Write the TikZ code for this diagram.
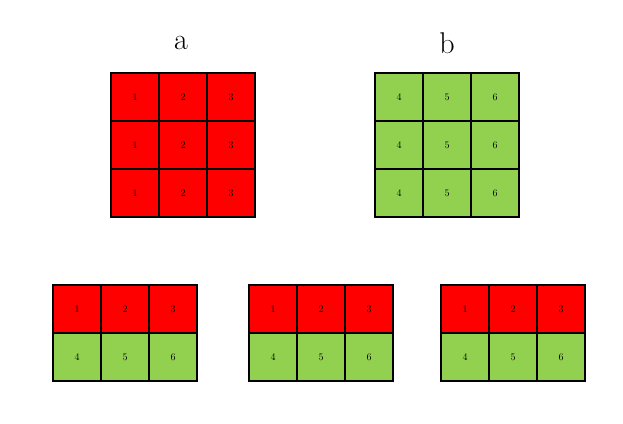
\documentclass[tikz,border=0pt]{standalone}
\usepackage{tikz}
\definecolor{cellred}{HTML}{FF0000}
\definecolor{cellgreen}{HTML}{92D050}
\tikzset{cell/.style={draw, line width=1.1pt, minimum size=48pt, inner sep=0pt, font=\fontsize{10}{11}\selectfont},
  rcell/.style={cell, fill=cellred}, gcell/.style={cell, fill=cellgreen},
  title/.style={font=\fontsize{30}{32}\selectfont}}
\begin{document}
\begin{tikzpicture}[x=1pt,y=-1pt]
    \useasboundingbox (0,0) rectangle (623,423);
    \node[title] (ta) at (181,43) {a};
    \node[title] (tb) at (447,43) {b};
    % the two 3x3 blocks
    \foreach \r in {1,2,3} {
      \foreach \c/\n [count=\k] in {1/1,2/2,3/3} {
        \node[rcell] (a\r\c) at (87+48*\k,49+48*\r) {\n};
      }
      \foreach \c/\n [count=\k] in {1/4,2/5,3/6} {
        \node[gcell] (b\r\c) at (351+48*\k,49+48*\r) {\n};
      }
    }
    % the three 2x3 blocks below
    \foreach \g/\x in {1/53,2/249,3/441} {
      \foreach \n [count=\k] in {1,2,3}
        \node[rcell] (g\g r\k) at (\x-24+48*\k,309) {\n};
      \foreach \n [count=\k] in {4,5,6}
        \node[gcell] (g\g s\k) at (\x-24+48*\k,357) {\n};
    }
\end{tikzpicture}
\end{document}
